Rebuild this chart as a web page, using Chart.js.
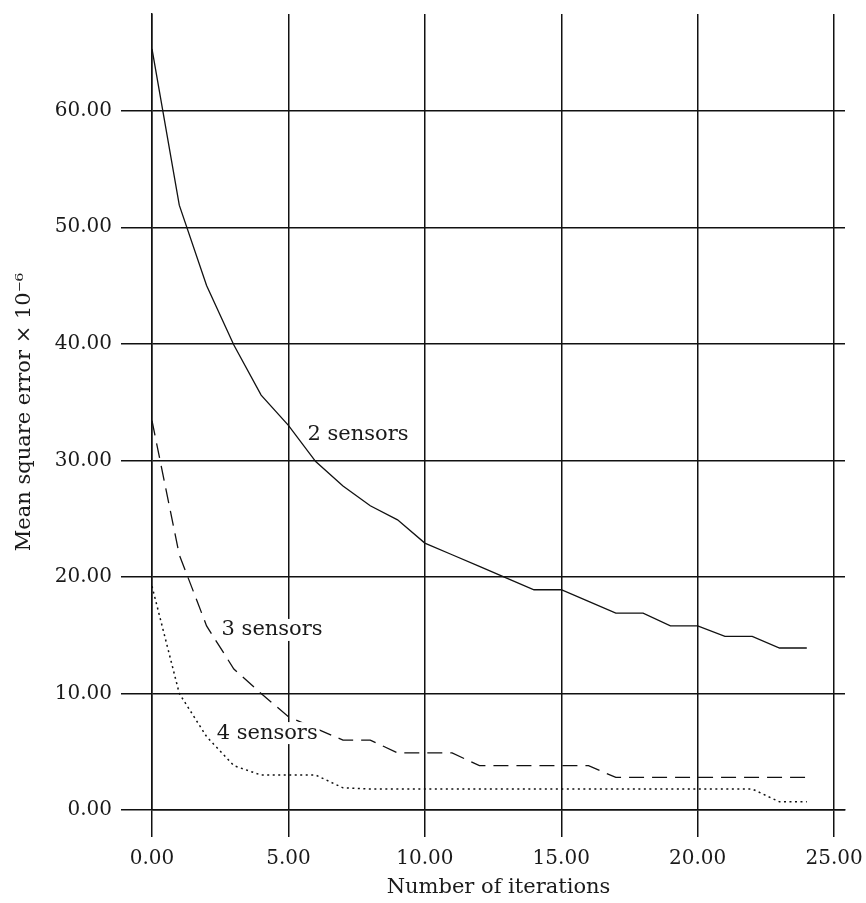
<!DOCTYPE html>
<html>
<head>
<meta charset="utf-8">
<script src="https://cdn.jsdelivr.net/npm/chart.js@4.4.1/dist/chart.umd.min.js"></script>
<style>
  html, body { margin: 0; padding: 0; background: #fff; }
  #wrap { width: 866px; height: 903px; }
</style>
</head>
<body>
<div id="wrap"><canvas id="mseChart"></canvas></div>
<script>
// values
const iterations = [0, 1, 2, 3, 4, 5, 6, 7, 8, 9, 10, 11, 12, 13, 14, 15, 16, 17, 18, 19, 20, 21, 22, 23, 24];
const twoSensors = [65.3, 51.9, 45.0, 39.9, 35.6, 33.0, 29.9, 27.8, 26.1, 24.9, 22.9, 21.9, 20.9, 19.9, 18.9, 18.9, 17.9, 16.9, 16.9, 15.8, 15.8, 14.9, 14.9, 13.9, 13.9];
const threeSensors = [33.4, 21.9, 15.8, 12.1, 10.0, 8.0, 7.0, 6.0, 6.0, 4.9, 4.9, 4.9, 3.8, 3.8, 3.8, 3.8, 3.8, 2.8, 2.8, 2.8, 2.8, 2.8, 2.8, 2.8, 2.8];
const fourSensors = [19.2, 10.0, 6.3, 3.8, 3.0, 3.0, 3.0, 1.9, 1.8, 1.8, 1.8, 1.8, 1.8, 1.8, 1.8, 1.8, 1.8, 1.8, 1.8, 1.8, 1.8, 1.8, 1.8, 0.7, 0.7];

const seriesNames = ['2 sensors', '3 sensors', '4 sensors'];
// where the curve labels sit (in data units: left edge x, middle y)
const labelSpots = [[5.7, 32.2], [2.55, 15.45], [2.37, 6.6]];

const FONT = '"DejaVu Serif", "Liberation Serif", serif';
const INK = '#1a1a1a';

function toPoints(values) {
    return iterations.map((it, i) => ({ x: it, y: values[i] }));
}

// no extra room for the edge tick labels, the layout padding decides the plot box
function fixBox(s, size) {
    if (s.isHorizontal()) s.height = size; else s.width = size;
    s.paddingTop = 0; s.paddingBottom = 0; s.paddingLeft = 0; s.paddingRight = 0;
}

// draws the "n sensors" labels on a white patch, over the lines and grid
const curveLabels = {
    id: 'curveLabels',
    afterDatasetsDraw(chart) {
        const ctx = chart.ctx;
        const xs = chart.scales.x, ys = chart.scales.y;
        ctx.save();
        ctx.font = '21px ' + FONT;
        ctx.textBaseline = 'middle';
        seriesNames.forEach((name, i) => {
            const px = xs.getPixelForValue(labelSpots[i][0]);
            const py = ys.getPixelForValue(labelSpots[i][1]);
            const w = ctx.measureText(name).width;
            ctx.fillStyle = '#fff';
            ctx.fillRect(px - 2, py - 11, w + 4, 22);
            ctx.fillStyle = INK;
            ctx.fillText(name, px, py);
        });
        ctx.restore();
    }
};

const lineBase = { borderColor: '#111', borderWidth: 1.3, pointRadius: 0, tension: 0, fill: false };

new Chart(document.getElementById('mseChart').getContext('2d'), {
    type: 'line',
    data: {
        datasets: [
            { ...lineBase, label: seriesNames[0], data: toPoints(twoSensors) },
            { ...lineBase, label: seriesNames[1], data: toPoints(threeSensors), borderDash: [15, 8] },
            { ...lineBase, label: seriesNames[2], data: toPoints(fourSensors), borderDash: [2, 3.5], borderWidth: 1.5 }
        ]
    },
    options: {
        responsive: true,
        maintainAspectRatio: false,
        animation: false,
        layout: { padding: { top: 14, right: 21, left: 0, bottom: 0 } },
        plugins: { legend: { display: false }, tooltip: { enabled: false } },
        scales: {
            x: {
                type: 'linear',
                min: 0,
                max: 25.4,
                afterFit: s => fixBox(s, 93),
                grid: { color: '#111', lineWidth: 1.5, tickLength: 27, tickColor: '#111' },
                border: { color: '#111', width: 1.5 },
                ticks: {
                    stepSize: 5,
                    includeBounds: false,
                    maxRotation: 0,
                    padding: 10,
                    color: INK,
                    font: { family: FONT, size: 20 },
                    callback: v => Number(v).toFixed(2)
                },
                title: {
                    display: true,
                    text: 'Number of iterations',
                    color: INK,
                    font: { family: FONT, size: 21 },
                    padding: { top: 4, bottom: 3 }
                }
            },
            y: {
                min: 0,
                max: 68.3,
                afterFit: s => fixBox(s, 152),
                grid: { color: '#111', lineWidth: 1.5, tickLength: 31, tickColor: '#111' },
                border: { color: '#111', width: 1.5 },
                ticks: {
                    stepSize: 10,
                    includeBounds: false,
                    padding: 9,
                    color: INK,
                    font: { family: FONT, size: 20 },
                    callback: v => Number(v).toFixed(2)
                },
                title: {
                    display: true,
                    text: 'Mean square error × 10⁻⁶',
                    color: INK,
                    font: { family: FONT, size: 21 },
                    padding: { top: 12, bottom: 4 }
                }
            }
        }
    },
    plugins: [curveLabels]
});
</script>
</body>
</html>
